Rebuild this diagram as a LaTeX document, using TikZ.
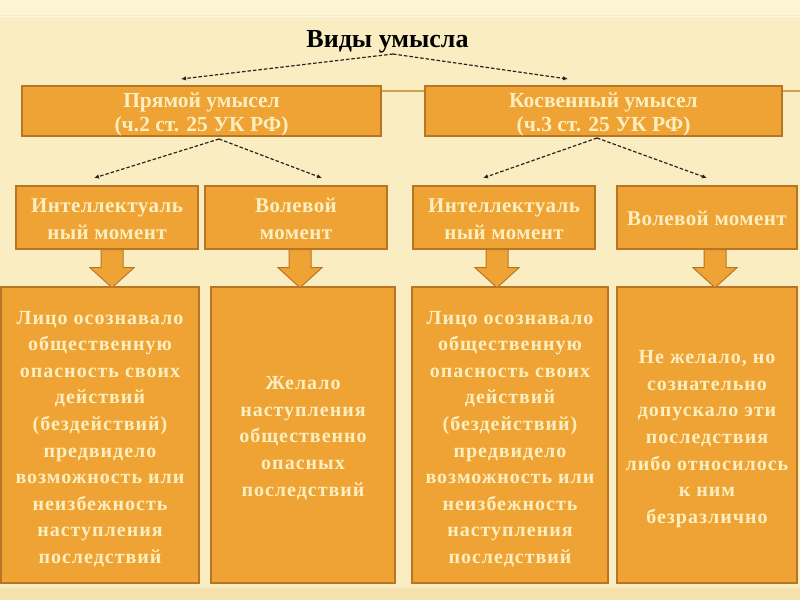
\documentclass[tikz,border=0pt]{standalone}
\usepackage{fontspec}
\setmainfont{Liberation Serif}
\usetikzlibrary{arrows.meta,calc}
\definecolor{bgc}{RGB}{250,237,194}
\definecolor{bgtop}{RGB}{253,244,214}
\definecolor{bgbot}{RGB}{244,225,172}
\definecolor{boxfill}{RGB}{238,163,52}
\definecolor{boxline}{RGB}{184,118,36}
\definecolor{txtlight}{RGB}{253,239,192}
\definecolor{tline}{RGB}{214,160,80}
\definecolor{dashc}{RGB}{40,36,30}
\begin{document}
\begin{tikzpicture}[x=1pt,y=-1pt,
  box/.style={draw=boxline,line width=1.3pt,fill=boxfill,rectangle,inner sep=0pt},
  boxtext/.style={text=txtlight,align=center,inner sep=0pt},
  toptext/.style={boxtext,font={\fontsize{21.5}{24}\selectfont\bfseries}},
  midtext/.style={boxtext,font={\fontsize{21}{27}\selectfont\bfseries\addfontfeature{LetterSpace=2}}},
  lowtext/.style={boxtext,font={\fontsize{20}{26.6}\selectfont\bfseries\addfontfeature{LetterSpace=5}}},
  dasharrow/.style={draw=dashc,line width=1.2pt,dash pattern=on 3.5pt off 2pt,-{Latex[length=5pt,width=4.5pt]}},
  blk/.style={draw=boxline,line width=1pt,fill=boxfill,line join=miter}
]
\useasboundingbox (0,0) rectangle (800,600);
\fill[bgc] (0,0) rectangle (800,600);
\fill[bgtop] (0,0) rectangle (800,15);
\draw[white,line width=1pt,opacity=0.6] (0,16) -- (800,16);
\fill[bgbot] (0,588) rectangle (800,600);
\draw[tline,line width=1.2pt] (381,91) -- (800,91);

% title
\node[font={\fontsize{26}{28}\selectfont\bfseries}] (title) at (387.5,42) {Виды умысла};
\coordinate (ts) at (393,54);
\coordinate (e1) at (181,79);
\coordinate (e2) at (568,79);

% top boxes
\node[box,minimum width=359pt,minimum height=50pt] (p) at (201.5,111) {};
\node[box,minimum width=357pt,minimum height=50pt] (k) at (603.5,111) {};
\node[toptext] (pt) at ([yshift=-3pt]p.center) {Прямой умысел\\(ч.2 ст. 25 УК РФ)};
\node[toptext] (kt) at ([yshift=-3pt]k.center) {Косвенный умысел\\(ч.3 ст. 25 УК РФ)};
\coordinate (pa) at (219,139);
\coordinate (ka) at (597,138);
\coordinate (e3) at (94,178);
\coordinate (e4) at (322,178);
\coordinate (e5) at (483,178);
\coordinate (e6) at (707,178);

% middle boxes
\node[box,minimum width=182pt,minimum height=63pt] (m1) at (107,217.5) {};
\node[box,minimum width=182pt,minimum height=63pt] (m2) at (296,217.5) {};
\node[box,minimum width=182pt,minimum height=63pt] (m3) at (504,217.5) {};
\node[box,minimum width=180pt,minimum height=63pt] (m4) at (707,217.5) {};
\node[midtext] (m1t) at ([yshift=-1.5pt]m1.center) {Интеллектуаль\\ный момент};
\node[midtext] (m2t) at ([yshift=-1.5pt]m2.center) {Волевой\\момент};
\node[midtext] (m3t) at ([yshift=-1.5pt]m3.center) {Интеллектуаль\\ный момент};
\node[midtext] (m4t) at ([yshift=-1pt]m4.center) {Волевой момент};

% lower boxes
\node[box,minimum width=198pt,minimum height=296pt] (b1) at (100,435) {};
\node[box,minimum width=184pt,minimum height=296pt] (b2) at (303,435) {};
\node[box,minimum width=196pt,minimum height=296pt] (b3) at (510,435) {};
\node[box,minimum width=180pt,minimum height=296pt] (b4) at (707,435) {};
\node[lowtext] (b1t) at ([yshift=-4pt]b1.center) {Лицо осознавало\\общественную\\опасность своих\\действий\\(бездействий)\\предвидело\\возможность или\\неизбежность\\наступления\\последствий};
\node[lowtext] (b2t) at ([yshift=-3pt]b2.center) {Желало\\наступления\\общественно\\опасных\\последствий};
\node[lowtext] (b3t) at ([yshift=-4pt]b3.center) {Лицо осознавало\\общественную\\опасность своих\\действий\\(бездействий)\\предвидело\\возможность или\\неизбежность\\наступления\\последствий};
\node[lowtext] (b4t) at ([yshift=-4pt]b4.center) {Не желало, но\\сознательно\\допускало эти\\последствия\\либо относилось\\к ним\\безразлично};

% dashed connectors
\draw[dasharrow] (ts) -- (e1);
\draw[dasharrow] (ts) -- (e2);
\draw[dasharrow] (pa) -- (e3);
\draw[dasharrow] (pa) -- (e4);
\draw[dasharrow] (ka) -- (e5);
\draw[dasharrow] (ka) -- (e6);

% block arrows
\coordinate (x1) at (112,0);
\coordinate (x2) at (300,0);
\coordinate (x3) at (497,0);
\coordinate (x4) at (715,0);
\foreach \xa/\ma in {x1/m1,x2/m2,x3/m3,x4/m4}{
  \draw[blk,shift={(\xa |- \ma.south)}] (-11,0) -- (11,0) -- (11,18) -- (22,18) -- (0,38) -- (-22,18) -- (-11,18) -- cycle;
}
\end{tikzpicture}
\end{document}
